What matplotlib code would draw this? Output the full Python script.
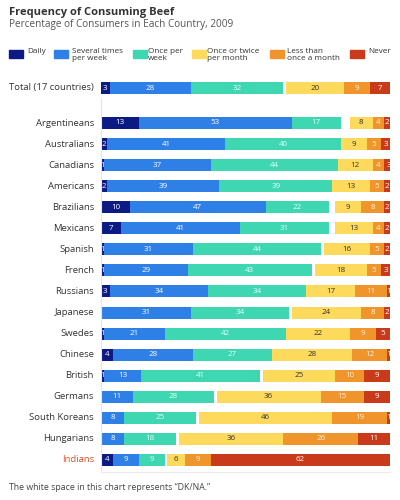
import matplotlib
matplotlib.use("Agg")
import matplotlib.pyplot as plt
import matplotlib.patches as mpatches
import numpy as np

plt.rcParams['font.family'] = ['Open Sans', 'DejaVu Sans']

countries = ["Total (17 countries)", "Argentineans", "Australians", "Canadians", "Americans",
             "Brazilians", "Mexicans", "Spanish", "French", "Russians", "Japanese",
             "Swedes", "Chinese", "British", "Germans", "South Koreans", "Hungarians", "Indians"]

categories = ["Daily", "Several times\nper week", "Once per\nweek", "Once or twice\nper month",
              "Less than\nonce a month", "Never"]

daily = [3, 13, 2, 1, 2, 10, 7, 1, 1, 3, 0, 1, 4, 1, 0, 0, 0, 4]
several = [28, 53, 41, 37, 39, 47, 41, 31, 29, 34, 31, 21, 28, 13, 11, 8, 8, 9]
weekly = [32, 17, 40, 44, 39, 22, 31, 44, 43, 34, 34, 42, 27, 41, 28, 25, 18, 9]
monthly = [20, 8, 9, 12, 13, 9, 13, 16, 18, 17, 24, 22, 28, 25, 36, 46, 36, 6]
rarely = [9, 4, 5, 4, 5, 8, 4, 5, 5, 11, 8, 9, 12, 10, 15, 19, 26, 9]
never = [7, 2, 3, 3, 2, 2, 2, 2, 3, 1, 2, 5, 1, 9, 9, 1, 11, 62]

colors = ["#0c1a84", "#2f80e6", "#3fd6b2", "#fdd95c", "#f0952c", "#c93a1b"]
label_colors = ["white", "white", "#e8fff8", "#333333", "#fff3e0", "white"]

fig = plt.figure(figsize=(4, 5), dpi=100)
ax = fig.add_axes([101 / 400, 1 - 472 / 500, 289 / 400, 392 / 500])

row_step = 21.06
ypos = [0.0] + [35 / row_step + i for i in range(len(countries) - 1)]

series = [daily, several, weekly, monthly, rarely, never]
bar_h = 12 / row_step

for r, y in enumerate(ypos):
    vals = [s[r] for s in series]
    gap = max(0, 100 - sum(vals))
    left = 0
    for k, v in enumerate(vals):
        if k == 3:
            left += gap
        if v > 0:
            rects = ax.barh(y, v, left=left, height=bar_h, color=colors[k], edgecolor="none")
            t = ax.text(left + v / 2, y, str(v), ha="center", va="center",
                        fontsize=5.8, color=label_colors[k])
            t.set_clip_path(rects[0])
        left += v

ax.set_xlim(0, 100)
ax.set_ylim((472 - 88) / row_step, (80 - 88) / row_step)
ax.axis("off")

# thin guide lines on the left and bottom
ax.plot([0, 0], [0.5, ypos[-1] + 0.55], color="#e6e6e6", lw=0.8, clip_on=False)
ax.plot([0, 100], [ypos[-1] + 0.55, ypos[-1] + 0.55], color="#ececec", lw=0.8, clip_on=False)

for name, y in zip(countries, ypos):
    fig.text(94 / 400, 1 - (88 + y * row_step) / 500, name, ha="right", va="center",
             fontsize=6.8, color="#d9532b" if name == "Indians" else "#333333")

fig.text(9 / 400, 1 - 12 / 500, "Frequency of Consuming Beef", fontsize=8,
         fontweight="bold", color="#333333", va="center")
fig.text(9 / 400, 1 - 25 / 500, "Percentage of Consumers in Each Country, 2009",
         fontsize=7.2, color="#555555", va="center")

# legend
sw_x = [9, 54, 133, 192, 270, 350]
tx_x = [27, 72, 148, 207, 287, 368]
for k, cat in enumerate(categories):
    fig.patches.append(mpatches.Rectangle((sw_x[k] / 400, 1 - 58 / 500), 14 / 400, 8 / 500,
                                          transform=fig.transFigure, color=colors[k]))
    fig.text(tx_x[k] / 400, 1 - 48 / 500, cat, fontsize=5.9, color="#333333",
             va="top", linespacing=0.9)

fig.text(9 / 400, 1 - 488 / 500, "The white space in this chart represents \u201cDK/NA.\u201d",
         fontsize=6.3, color="#444444", va="center")

fig.savefig("out.png", dpi=100, facecolor="white")
